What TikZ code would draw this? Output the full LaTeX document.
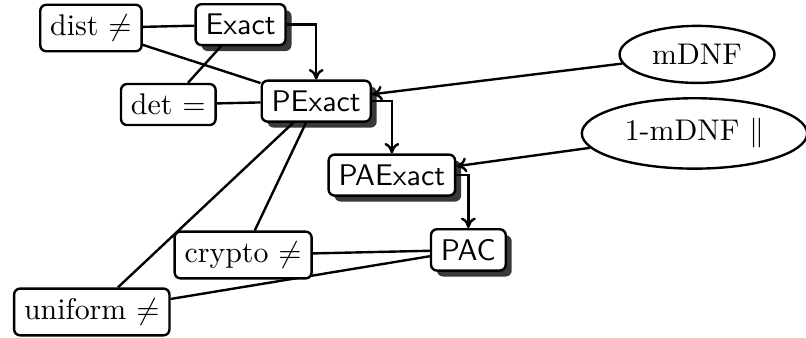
\documentclass[tikz,border=0pt]{standalone}
\usepackage{tikz}
\usetikzlibrary{shapes.geometric, arrows, arrows.meta, shadows, backgrounds}
\tikzstyle{model} = [rectangle, rounded corners=2pt, draw=black, thick, fill=white, font=\sffamily, drop shadow={shadow xshift=2pt, shadow yshift=-2pt, fill=black, opacity=0.78}]
\tikzstyle{hyp} = [rectangle, rounded corners=2pt, draw=black, thick, fill=white]
\tikzstyle{concept} = [ellipse, draw=black, thick, fill=white]
\tikzstyle{arrow} = [thick,->,>={To[length=3.5pt,width=5pt]}]
\tikzstyle{link} = [thick]

\begin{document}
\begin{tikzpicture}[node distance=0.9cm]
	\useasboundingbox (0,0) rectangle (9.482,-3.965);

	\node (pexact) [model] at (3.72,-1.19) {PExact};
	\node (exact) [model, above of=pexact, xshift=-0.89cm] {Exact};
	\node (dist) [hyp, left of=exact, xshift=-0.86cm, yshift=-0.04cm] {dist $\neq$};
	\node (det) [hyp, left of=pexact, xshift=-0.84cm, yshift=-0.04cm] {det $=$};
	\node (paexact) [model, below of=pexact, xshift=0.89cm, yshift=0.03cm] {PAExact};
	\node (pac) [model, below of=paexact, xshift=0.9cm, yshift=0.02cm] {PAC};
	\node (crypto) [hyp, left of=pac, xshift=-1.75cm, yshift=-0.06cm] {crypto $\neq$};
	\node (uniform) [hyp, below of=crypto, xshift=-1.78cm, yshift=0.23cm] {uniform $\neq$};
	\node (mdnf) [concept, right of=pexact, xshift=3.58cm, yshift=0.55cm] {mDNF};
	\node (onemdnf) [concept, below of=mdnf, xshift=-0.03cm, yshift=-0.03cm] {1-mDNF $\|$};

\begin{pgfonlayer}{background}
\draw [link] (dist) -- (exact);
\draw [link] (dist) -- (pexact);
\draw [link] (exact) -- (det);
\draw [link] (det) -- (pexact);
\draw [link] (pexact) -- (crypto);
\draw [link] (pexact) -- (uniform);
\draw [link] (crypto) -- (pac);
\draw [link] (uniform) -- (pac);
\draw [arrow] (exact) -| (pexact);
\draw [arrow] (pexact) -| (paexact);
\draw [arrow] (paexact) -| (pac);
\draw [arrow] (mdnf) -- (pexact);
\draw [arrow] (onemdnf) -- (paexact);
\end{pgfonlayer}

\end{tikzpicture}
\end{document}
